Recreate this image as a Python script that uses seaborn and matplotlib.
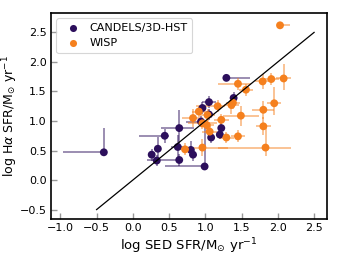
import numpy as np
import pandas as pd
import matplotlib
matplotlib.use("Agg")
import matplotlib.pyplot as plt
import seaborn as sns

# CANDELS/3D-HST
c_x = [-0.40, 0.26, 0.33, 0.345, 0.44, 0.62, 0.64, 0.64, 0.80, 0.83, 0.94, 0.96, 1.05, 1.05, 0.99, 1.08, 1.20, 1.22, 1.29, 1.39]
c_y = [0.47, 0.43, 0.33, 0.53, 0.75, 0.56, 0.88, 0.34, 0.51, 0.43, 0.99, 1.22, 1.32, 1.11, 0.23, 0.72, 0.77, 0.88, 1.73, 1.39]
c_xlo = [0.57, 0.05, 0.05, 0.05, 0.36, 0.10, 0.25, 0.45, 0.05, 0.05, 0.20, 0.05, 0.10, 0.05, 0.55, 0.05, 0.05, 0.05, 0.00, 0.05]
c_xhi = [0.00, 0.05, 0.05, 0.05, 0.06, 0.10, 0.20, 0.05, 0.05, 0.05, 0.10, 0.05, 0.10, 0.05, 0.05, 0.05, 0.05, 0.05, 0.32, 0.05]
c_ylo = [0.00, 0.10, 0.10, 0.20, 0.12, 0.20, 0.30, 0.10, 0.12, 0.10, 0.10, 0.10, 0.10, 0.10, 0.05, 0.10, 0.08, 0.08, 0.05, 0.10]
c_yhi = [0.41, 0.10, 0.10, 0.20, 0.12, 0.20, 0.30, 0.10, 0.15, 0.10, 0.10, 0.10, 0.10, 0.10, 0.70, 0.10, 0.08, 0.08, 0.05, 0.10]

# WISP
w_x = [2.03, 1.45, 1.56, 1.79, 1.91, 2.08, 1.36, 1.38, 1.17, 0.91, 0.83, 0.96, 1.02, 1.06, 1.22, 1.49, 1.80, 1.95, 1.80, 1.29, 1.45, 0.96, 0.72, 1.83, 1.03]
w_y = [2.62, 1.63, 1.53, 1.67, 1.71, 1.72, 1.27, 1.31, 1.25, 1.16, 1.05, 0.96, 0.93, 0.82, 1.02, 1.09, 1.19, 1.30, 0.91, 0.72, 0.74, 0.55, 0.52, 0.55, 1.10]
w_xlo = [0.00, 0.27, 0.10, 0.10, 0.10, 0.10, 0.10, 0.10, 0.30, 0.10, 0.15, 0.20, 0.10, 0.10, 0.10, 0.25, 0.15, 0.10, 0.10, 0.10, 0.10, 0.30, 0.10, 0.65, 0.10]
w_xhi = [0.14, 0.18, 0.10, 0.10, 0.10, 0.10, 0.10, 0.10, 0.10, 0.10, 0.10, 0.20, 0.10, 0.10, 0.10, 0.25, 0.15, 0.10, 0.10, 0.10, 0.10, 0.35, 0.10, 0.35, 0.10]
w_ylo = [0.00, 0.10, 0.10, 0.12, 0.10, 0.20, 0.15, 0.10, 0.10, 0.10, 0.15, 0.10, 0.10, 0.10, 0.10, 0.17, 0.15, 0.20, 0.15, 0.10, 0.10, 0.15, 0.10, 0.15, 0.10]
w_yhi = [0.00, 0.10, 0.10, 0.12, 0.10, 0.25, 0.15, 0.10, 0.10, 0.10, 0.15, 0.10, 0.10, 0.10, 0.10, 0.17, 0.15, 0.28, 0.15, 0.10, 0.10, 0.15, 0.10, 0.35, 0.10]

line_x = [-0.5, 2.5]
line_y = [-0.5, 2.5]

purple = "#2c0f5c"
orange = "#f5801e"

df = pd.DataFrame({
    "x": c_x + w_x,
    "y": c_y + w_y,
    "sample": ["CANDELS/3D-HST"] * len(c_x) + ["WISP"] * len(w_x),
})

fig = plt.figure(figsize=(3.44, 2.58), dpi=100)
ax = fig.add_axes([0.148, 0.151, 0.803, 0.799])

ax.errorbar(c_x, c_y, xerr=[c_xlo, c_xhi], yerr=[c_ylo, c_yhi], fmt="none",
            ecolor=purple, alpha=0.6, elinewidth=1.1, capsize=0, zorder=1)
ax.errorbar(w_x, w_y, xerr=[w_xlo, w_xhi], yerr=[w_ylo, w_yhi], fmt="none",
            ecolor=orange, alpha=0.6, elinewidth=1.1, capsize=0, zorder=1)

sns.scatterplot(data=df, x="x", y="y", hue="sample",
                palette={"CANDELS/3D-HST": purple, "WISP": orange},
                s=32, edgecolor="none", ax=ax, zorder=3)

ax.plot(line_x, line_y, color="black", lw=0.9, zorder=4)

ax.set_xlim(-1.13, 2.68)
ax.set_ylim(-0.66, 2.83)
ax.set_xticks([-1.0, -0.5, 0.0, 0.5, 1.0, 1.5, 2.0, 2.5])
ax.set_yticks([-0.5, 0.0, 0.5, 1.0, 1.5, 2.0, 2.5])
ax.tick_params(direction="in", length=4, width=1, color="#999999", labelsize=8, pad=3)
for s in ax.spines.values():
    s.set_linewidth(1.2)
    s.set_color("black")

ax.set_xlabel(r"log SED SFR/M$_{\odot}$ yr$^{-1}$", fontsize=9.5, labelpad=2)
ax.set_ylabel(r"log H$\alpha$ SFR/M$_{\odot}$ yr$^{-1}$", fontsize=9, labelpad=0)
ax.yaxis.set_label_coords(-0.112, 0.5)

leg = ax.legend(loc="upper left", fontsize=8, frameon=True, handletextpad=0.5,
                borderpad=0.45, labelspacing=0.45, markerscale=0.9)
leg.get_frame().set_edgecolor("#cccccc")
leg.get_frame().set_linewidth(0.8)

fig.savefig("out.png", dpi=100)
